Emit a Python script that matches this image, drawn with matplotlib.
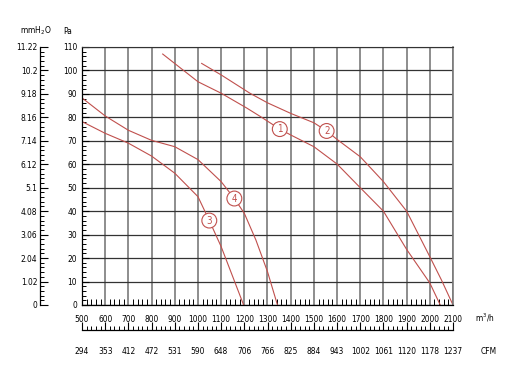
import numpy as np
import matplotlib.pyplot as plt

plt.rcParams['font.family'] = ['DejaVu Sans']
plt.rcParams['font.stretch'] = 'condensed'

# axis data
flow_ticks = list(range(500, 2101, 100))
pa_ticks = list(range(0, 111, 10))
mm_labels = ['0', '1.02', '2.04', '3.06', '4.08', '5.1', '6.12', '7.14',
             '8.16', '9.18', '10.2', '11.22']
cfm_labels = ['294', '353', '412', '472', '531', '590', '648', '706', '766',
              '825', '884', '943', '1002', '1061', '1120', '1178', '1237']

# fan curves (m3/h, Pa)
c1_x = [848, 1000, 1100, 1210, 1267, 1353, 1400, 1500, 1600, 1700, 1800, 1900, 2000, 2045]
c1_y = [107, 95.2, 90.3, 84.0, 80.5, 75, 72.5, 67.5, 60.1, 50, 40, 23.7, 9.4, 0]
c2_x = [1016, 1100, 1224, 1300, 1400, 1500, 1555, 1600, 1700, 1800, 1900, 2000, 2050, 2100]
c2_y = [103, 98.1, 90.3, 86.2, 81.7, 77.7, 74.2, 70.6, 63.2, 52.6, 40, 20.6, 10.7, 0]
c3_x = [500, 600, 700, 800, 900, 1000, 1049, 1100, 1150, 1197]
c3_y = [78.2, 73.2, 69, 63.5, 56.2, 46.2, 36, 24.9, 12.1, 0]
c4_x = [500, 600, 700, 800, 900, 1000, 1100, 1157, 1200, 1250, 1300, 1343]
c4_y = [88.3, 80.6, 74.5, 70.2, 67.5, 62, 52.6, 45.4, 39.1, 27.7, 14.2, 0]

curves = [(c1_x, c1_y), (c2_x, c2_y), (c3_x, c3_y), (c4_x, c4_y)]
# where the curve numbers sit
label_pos = [(1353, 75), (1555, 74.2), (1049, 36), (1157, 45.4)]

red = '#c0504d'
fs = 6

fig = plt.figure(figsize=(5.07, 3.68), dpi=100)
ax = fig.add_axes([82/507, 1-305/368, (453-82)/507, (305-47)/368])
ax.set_xlim(500, 2100)
ax.set_ylim(0, 110)

ax.set_xticks(flow_ticks)
ax.set_xticks(range(500, 2101, 20), minor=True)
ax.set_yticks(pa_ticks)
ax.set_yticks(range(0, 111, 2), minor=True)

ax.xaxis.grid(True, which='major', color='#7a7a7a', lw=1.2)
ax.yaxis.grid(True, which='major', color='#333333', lw=0.9)
ax.set_axisbelow(True)

for s in ['left', 'bottom']:
    ax.spines[s].set_color('black')
    ax.spines[s].set_linewidth(0.9)
ax.spines['top'].set_color('#333333')
ax.spines['right'].set_color('#7a7a7a')
ax.spines['right'].set_linewidth(1.2)

ax.tick_params(axis='x', which='major', direction='in', length=0, pad=7, labelsize=fs)
ax.tick_params(axis='x', which='minor', direction='in', length=4, width=0.7)
ax.tick_params(axis='y', which='major', direction='in', length=5, pad=3.5, labelsize=fs)
ax.tick_params(axis='y', which='minor', direction='in', length=3, width=0.7)

for (x, y) in curves:
    ax.plot(x, y, color=red, lw=0.8)

for i, (lx, ly) in enumerate(label_pos):
    ax.text(lx, ly, str(i + 1), color=red, fontsize=7, ha='center', va='center',
            bbox=dict(boxstyle='circle,pad=0.25', fc='white', ec=red, lw=0.8))

# mmH2O scale on the far left
mm = ax.secondary_yaxis((40-82)/371)
mm.set_yticks(pa_ticks, labels=mm_labels)
mm.set_yticks(range(0, 111, 2), minor=True)
mm.tick_params(which='major', direction='in', length=6, pad=2, labelsize=fs)
mm.tick_params(which='minor', direction='in', length=3, width=0.7)
mm.spines['left'].set_linewidth(0.9)

# CFM scale under the m3/h one
cfm = ax.secondary_xaxis((305-330)/258)
cfm.set_xticks(flow_ticks, labels=cfm_labels)
cfm.set_xticks(range(500, 2101, 20), minor=True)
cfm.tick_params(which='major', direction='in', length=6, pad=12, labelsize=fs)
cfm.tick_params(which='minor', direction='in', length=3, width=0.7)
cfm.spines['bottom'].set_linewidth(0.9)

fig.text(36/507, 1-31/368, 'mmH$_2$O', fontsize=fs, ha='center', va='center')
fig.text(68/507, 1-31/368, 'Pa', fontsize=fs, ha='center', va='center')
fig.text(485/507, 1-318/368, 'm$^3$/h', fontsize=fs, ha='center', va='center')
fig.text(489/507, 1-352/368, 'CFM', fontsize=fs, ha='center', va='center')

fig.savefig('out.png', dpi=100)
